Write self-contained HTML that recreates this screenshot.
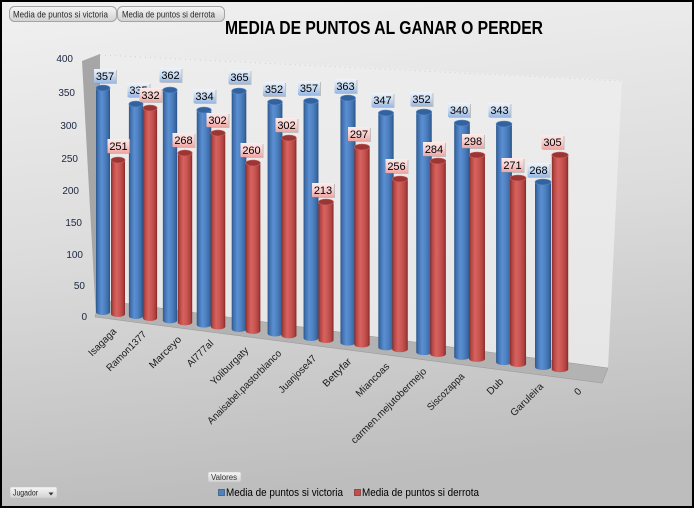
<!DOCTYPE html>
<html><head><meta charset="utf-8"><style>
html,body{margin:0;padding:0;background:#fff;}
svg{display:block;font-family:"Liberation Sans",sans-serif;}
</style></head><body>
<svg width="694" height="508" viewBox="0 0 694 508" xmlns="http://www.w3.org/2000/svg">
<defs>
<linearGradient id="bg" x1="0" y1="0" x2="0.15" y2="1">
<stop offset="0" stop-color="#f1f1f1"/><stop offset="0.5" stop-color="#dcdcdc"/><stop offset="1" stop-color="#bdbdbd"/>
</linearGradient>
<linearGradient id="wall" x1="0" y1="0" x2="0" y2="1">
<stop offset="0" stop-color="#ededed"/><stop offset="1" stop-color="#e6e6e6"/>
</linearGradient>
<linearGradient id="gb" x1="0" y1="0" x2="1" y2="0">
<stop offset="0" stop-color="#2c578c"/><stop offset="0.15" stop-color="#4273b2"/><stop offset="0.38" stop-color="#5b8fd1"/><stop offset="0.62" stop-color="#4e82c3"/><stop offset="0.86" stop-color="#3c6ca7"/><stop offset="1" stop-color="#2a5283"/>
</linearGradient>
<linearGradient id="gr" x1="0" y1="0" x2="1" y2="0">
<stop offset="0" stop-color="#8a2d2b"/><stop offset="0.15" stop-color="#b84946"/><stop offset="0.38" stop-color="#d6635f"/><stop offset="0.62" stop-color="#ca5552"/><stop offset="0.86" stop-color="#ae423f"/><stop offset="1" stop-color="#832927"/>
</linearGradient>
<linearGradient id="lb" x1="0" y1="0" x2="0" y2="1">
<stop offset="0" stop-color="#eef4fb"/><stop offset="0.5" stop-color="#c9daf1"/><stop offset="1" stop-color="#98b8e2"/>
</linearGradient>
<linearGradient id="lr" x1="0" y1="0" x2="0" y2="1">
<stop offset="0" stop-color="#fdeceb"/><stop offset="0.5" stop-color="#f8d0cf"/><stop offset="1" stop-color="#eea6a4"/>
</linearGradient>
<linearGradient id="btn" x1="0" y1="0" x2="0" y2="1">
<stop offset="0" stop-color="#f6f6f6"/><stop offset="1" stop-color="#d2d2d2"/>
</linearGradient>
</defs>

<rect x="0" y="0" width="694" height="508" fill="url(#bg)"/>

<!-- walls and floor -->
<polygon points="100,54 622,80 608,368 100,300" fill="url(#wall)"/>
<line x1="100" y1="55" x2="621" y2="81" stroke="#cfcfcf" stroke-width="1" stroke-dasharray="1,4"/>
<polygon points="82,61 100,54 100,300 96,318" fill="#a6a6a6"/>
<polygon points="100,300 608,368 602,383 95,317" fill="#b3b3b3" stroke="#9c9c9c" stroke-width="0.6"/>

<!-- y axis labels -->
<g font-size="10" fill="#1c2541" text-anchor="end">
<text x="73" y="62">400</text>
<text x="75" y="96">350</text>
<text x="77" y="129">300</text>
<text x="78" y="162">250</text>
<text x="79" y="194">200</text>
<text x="82" y="226">150</text>
<text x="83" y="258">100</text>
<text x="85" y="289">50</text>
<text x="87" y="320">0</text>
</g>

<!-- bars -->
<g id="bars">
<!-- 1 -->
<rect x="96" y="88" width="14" height="224" fill="url(#gb)"/><ellipse cx="103" cy="312" rx="7" ry="3" fill="url(#gb)"/><ellipse cx="103" cy="88" rx="7" ry="3" fill="#33639f" stroke="#5a8acb" stroke-width="0.6"/>
<rect x="111" y="160" width="14" height="154" fill="url(#gr)"/><ellipse cx="118" cy="314" rx="7" ry="3" fill="url(#gr)"/><ellipse cx="118" cy="160" rx="7" ry="3" fill="#9a3633" stroke="#d0625f" stroke-width="0.6"/>
<!-- 2 -->
<rect x="128.9" y="104" width="14.2" height="212" fill="url(#gb)"/><ellipse cx="136" cy="316" rx="7.1" ry="3" fill="url(#gb)"/><ellipse cx="136" cy="104" rx="7.1" ry="3" fill="#33639f" stroke="#5a8acb" stroke-width="0.6"/>
<rect x="142.9" y="108" width="14.2" height="210" fill="url(#gr)"/><ellipse cx="150" cy="318" rx="7.1" ry="3" fill="url(#gr)"/><ellipse cx="150" cy="108" rx="7.1" ry="3" fill="#9a3633" stroke="#d0625f" stroke-width="0.6"/>
<!-- 3 -->
<rect x="162.85" y="90" width="14.3" height="230.4" fill="url(#gb)"/><ellipse cx="170" cy="320.4" rx="7.15" ry="3" fill="url(#gb)"/><ellipse cx="170" cy="90" rx="7.15" ry="3" fill="#33639f" stroke="#5a8acb" stroke-width="0.6"/>
<rect x="177.8" y="153" width="14.4" height="169.4" fill="url(#gr)"/><ellipse cx="185" cy="322.4" rx="7.2" ry="3" fill="url(#gr)"/><ellipse cx="185" cy="153" rx="7.2" ry="3" fill="#9a3633" stroke="#d0625f" stroke-width="0.6"/>
<!-- 4 -->
<rect x="196.75" y="110" width="14.5" height="214.6" fill="url(#gb)"/><ellipse cx="204" cy="324.6" rx="7.25" ry="3" fill="url(#gb)"/><ellipse cx="204" cy="110" rx="7.25" ry="3" fill="#33639f" stroke="#5a8acb" stroke-width="0.6"/>
<rect x="210.75" y="133" width="14.5" height="193.5" fill="url(#gr)"/><ellipse cx="218" cy="326.5" rx="7.25" ry="3" fill="url(#gr)"/><ellipse cx="218" cy="133" rx="7.25" ry="3" fill="#9a3633" stroke="#d0625f" stroke-width="0.6"/>
<!-- 5 -->
<rect x="231.7" y="91" width="14.6" height="238" fill="url(#gb)"/><ellipse cx="239" cy="329" rx="7.3" ry="3" fill="url(#gb)"/><ellipse cx="239" cy="91" rx="7.3" ry="3" fill="#33639f" stroke="#5a8acb" stroke-width="0.6"/>
<rect x="245.65" y="163" width="14.7" height="167.9" fill="url(#gr)"/><ellipse cx="253" cy="330.9" rx="7.35" ry="3" fill="url(#gr)"/><ellipse cx="253" cy="163" rx="7.35" ry="3" fill="#9a3633" stroke="#d0625f" stroke-width="0.6"/>
<!-- 6 -->
<rect x="267.6" y="102" width="14.8" height="231.5" fill="url(#gb)"/><ellipse cx="275" cy="333.5" rx="7.4" ry="3" fill="url(#gb)"/><ellipse cx="275" cy="102" rx="7.4" ry="3" fill="#33639f" stroke="#5a8acb" stroke-width="0.6"/>
<rect x="281.55" y="138" width="14.9" height="197.4" fill="url(#gr)"/><ellipse cx="289" cy="335.4" rx="7.45" ry="3" fill="url(#gr)"/><ellipse cx="289" cy="138" rx="7.45" ry="3" fill="#9a3633" stroke="#d0625f" stroke-width="0.6"/>
<!-- 7 -->
<rect x="303.55" y="101" width="14.9" height="237" fill="url(#gb)"/><ellipse cx="311" cy="338" rx="7.45" ry="3" fill="url(#gb)"/><ellipse cx="311" cy="101" rx="7.45" ry="3" fill="#33639f" stroke="#5a8acb" stroke-width="0.6"/>
<rect x="318.45" y="202" width="15.1" height="138" fill="url(#gr)"/><ellipse cx="326" cy="340" rx="7.55" ry="3" fill="url(#gr)"/><ellipse cx="326" cy="202" rx="7.55" ry="3" fill="#9a3633" stroke="#d0625f" stroke-width="0.6"/>
<!-- 8 -->
<rect x="340.45" y="98" width="15.1" height="244.6" fill="url(#gb)"/><ellipse cx="348" cy="342.6" rx="7.55" ry="3" fill="url(#gb)"/><ellipse cx="348" cy="98" rx="7.55" ry="3" fill="#33639f" stroke="#5a8acb" stroke-width="0.6"/>
<rect x="354.35" y="147" width="15.3" height="197.5" fill="url(#gr)"/><ellipse cx="362" cy="344.5" rx="7.65" ry="3" fill="url(#gr)"/><ellipse cx="362" cy="147" rx="7.65" ry="3" fill="#9a3633" stroke="#d0625f" stroke-width="0.6"/>
<!-- 9 -->
<rect x="378.35" y="113" width="15.3" height="234.4" fill="url(#gb)"/><ellipse cx="386" cy="347.4" rx="7.65" ry="3" fill="url(#gb)"/><ellipse cx="386" cy="113" rx="7.65" ry="3" fill="#33639f" stroke="#5a8acb" stroke-width="0.6"/>
<rect x="392.25" y="179" width="15.5" height="170.3" fill="url(#gr)"/><ellipse cx="400" cy="349.3" rx="7.75" ry="3" fill="url(#gr)"/><ellipse cx="400" cy="179" rx="7.75" ry="3" fill="#9a3633" stroke="#d0625f" stroke-width="0.6"/>
<!-- 10 -->
<rect x="416.25" y="112" width="15.5" height="240.1" fill="url(#gb)"/><ellipse cx="424" cy="352.1" rx="7.75" ry="3" fill="url(#gb)"/><ellipse cx="424" cy="112" rx="7.75" ry="3" fill="#33639f" stroke="#5a8acb" stroke-width="0.6"/>
<rect x="430.15" y="161" width="15.7" height="193" fill="url(#gr)"/><ellipse cx="438" cy="354" rx="7.85" ry="3" fill="url(#gr)"/><ellipse cx="438" cy="161" rx="7.85" ry="3" fill="#9a3633" stroke="#d0625f" stroke-width="0.6"/>
<!-- 11 -->
<rect x="454.2" y="123" width="15.6" height="233.9" fill="url(#gb)"/><ellipse cx="462" cy="356.9" rx="7.8" ry="3" fill="url(#gb)"/><ellipse cx="462" cy="123" rx="7.8" ry="3" fill="#33639f" stroke="#5a8acb" stroke-width="0.6"/>
<rect x="469.05" y="155" width="15.9" height="203.9" fill="url(#gr)"/><ellipse cx="477" cy="358.9" rx="7.95" ry="3" fill="url(#gr)"/><ellipse cx="477" cy="155" rx="7.95" ry="3" fill="#9a3633" stroke="#d0625f" stroke-width="0.6"/>
<!-- 12 -->
<rect x="496.1" y="124" width="15.8" height="238.1" fill="url(#gb)"/><ellipse cx="504" cy="362.1" rx="7.9" ry="3" fill="url(#gb)"/><ellipse cx="504" cy="124" rx="7.9" ry="3" fill="#33639f" stroke="#5a8acb" stroke-width="0.6"/>
<rect x="509.95" y="178" width="16.1" height="186" fill="url(#gr)"/><ellipse cx="518" cy="364" rx="8.05" ry="3" fill="url(#gr)"/><ellipse cx="518" cy="178" rx="8.05" ry="3" fill="#9a3633" stroke="#d0625f" stroke-width="0.6"/>
<!-- 13 -->
<rect x="535" y="182" width="16" height="185" fill="url(#gb)"/><ellipse cx="543" cy="367" rx="8" ry="3" fill="url(#gb)"/><ellipse cx="543" cy="182" rx="8" ry="3" fill="#33639f" stroke="#5a8acb" stroke-width="0.6"/>
<rect x="551.8" y="155" width="16.4" height="214.3" fill="url(#gr)"/><ellipse cx="560" cy="369.3" rx="8.2" ry="3" fill="url(#gr)"/><ellipse cx="560" cy="155" rx="8.2" ry="3" fill="#9a3633" stroke="#d0625f" stroke-width="0.6"/>
</g>

<!-- blue data labels -->
<g font-size="11" fill="#000" text-anchor="middle">
<g><rect x="95" y="70" width="22" height="14" fill="#8a8a8a" opacity="0.45"/><rect x="94" y="69" width="22" height="14" fill="url(#lb)"/><text x="105" y="80">357</text></g>
<g><rect x="128.5" y="84" width="22" height="14" fill="#8a8a8a" opacity="0.45"/><rect x="127.5" y="83" width="22" height="14" fill="url(#lb)"/><text x="138.5" y="94">335</text></g>
<g><rect x="160.5" y="69" width="22" height="14" fill="#8a8a8a" opacity="0.45"/><rect x="159.5" y="68" width="22" height="14" fill="url(#lb)"/><text x="170.5" y="79">362</text></g>
<g><rect x="194.5" y="90" width="22" height="14" fill="#8a8a8a" opacity="0.45"/><rect x="193.5" y="89" width="22" height="14" fill="url(#lb)"/><text x="204.5" y="100">334</text></g>
<g><rect x="229.5" y="71" width="22" height="14" fill="#8a8a8a" opacity="0.45"/><rect x="228.5" y="70" width="22" height="14" fill="url(#lb)"/><text x="239.5" y="81">365</text></g>
<g><rect x="264" y="83" width="22" height="14" fill="#8a8a8a" opacity="0.45"/><rect x="263" y="82" width="22" height="14" fill="url(#lb)"/><text x="274" y="93">352</text></g>
<g><rect x="299" y="82" width="22" height="14" fill="#8a8a8a" opacity="0.45"/><rect x="298" y="81" width="22" height="14" fill="url(#lb)"/><text x="309" y="92">357</text></g>
<g><rect x="335.5" y="80" width="22" height="14" fill="#8a8a8a" opacity="0.45"/><rect x="334.5" y="79" width="22" height="14" fill="url(#lb)"/><text x="345.5" y="90">363</text></g>
<g><rect x="372.5" y="94" width="22" height="14" fill="#8a8a8a" opacity="0.45"/><rect x="371.5" y="93" width="22" height="14" fill="url(#lb)"/><text x="382.5" y="104">347</text></g>
<g><rect x="411.5" y="93" width="22" height="14" fill="#8a8a8a" opacity="0.45"/><rect x="410.5" y="92" width="22" height="14" fill="url(#lb)"/><text x="421.5" y="103">352</text></g>
<g><rect x="449" y="104" width="22" height="14" fill="#8a8a8a" opacity="0.45"/><rect x="448" y="103" width="22" height="14" fill="url(#lb)"/><text x="459" y="114">340</text></g>
<g><rect x="489.5" y="104" width="22" height="14" fill="#8a8a8a" opacity="0.45"/><rect x="488.5" y="103" width="22" height="14" fill="url(#lb)"/><text x="499.5" y="114">343</text></g>
<g><rect x="528.5" y="164" width="22" height="14" fill="#8a8a8a" opacity="0.45"/><rect x="527.5" y="163" width="22" height="14" fill="url(#lb)"/><text x="538.5" y="174">268</text></g>
</g>

<!-- red data labels -->
<g font-size="11" fill="#000" text-anchor="middle">
<g><rect x="108.5" y="140" width="22" height="14" fill="#8a8a8a" opacity="0.45"/><rect x="107.5" y="139" width="22" height="14" fill="url(#lr)"/><text x="118.5" y="150">251</text></g>
<g><rect x="140.5" y="89" width="22" height="14" fill="#8a8a8a" opacity="0.45"/><rect x="139.5" y="88" width="22" height="14" fill="url(#lr)"/><text x="150.5" y="99">332</text></g>
<g><rect x="173.5" y="134" width="22" height="14" fill="#8a8a8a" opacity="0.45"/><rect x="172.5" y="133" width="22" height="14" fill="url(#lr)"/><text x="183.5" y="144">268</text></g>
<g><rect x="207.5" y="114" width="22" height="14" fill="#8a8a8a" opacity="0.45"/><rect x="206.5" y="113" width="22" height="14" fill="url(#lr)"/><text x="217.5" y="124">302</text></g>
<g><rect x="241.5" y="144" width="22" height="14" fill="#8a8a8a" opacity="0.45"/><rect x="240.5" y="143" width="22" height="14" fill="url(#lr)"/><text x="251.5" y="154">260</text></g>
<g><rect x="276.5" y="119" width="22" height="14" fill="#8a8a8a" opacity="0.45"/><rect x="275.5" y="118" width="22" height="14" fill="url(#lr)"/><text x="286.5" y="129">302</text></g>
<g><rect x="313" y="184" width="22" height="14" fill="#8a8a8a" opacity="0.45"/><rect x="312" y="183" width="22" height="14" fill="url(#lr)"/><text x="323" y="194">213</text></g>
<g><rect x="349" y="128" width="22" height="14" fill="#8a8a8a" opacity="0.45"/><rect x="348" y="127" width="22" height="14" fill="url(#lr)"/><text x="359" y="138">297</text></g>
<g><rect x="386.5" y="160" width="22" height="14" fill="#8a8a8a" opacity="0.45"/><rect x="385.5" y="159" width="22" height="14" fill="url(#lr)"/><text x="396.5" y="170">256</text></g>
<g><rect x="424" y="143" width="22" height="14" fill="#8a8a8a" opacity="0.45"/><rect x="423" y="142" width="22" height="14" fill="url(#lr)"/><text x="434" y="153">284</text></g>
<g><rect x="463" y="135" width="22" height="14" fill="#8a8a8a" opacity="0.45"/><rect x="462" y="134" width="22" height="14" fill="url(#lr)"/><text x="473" y="145">298</text></g>
<g><rect x="502.5" y="159" width="22" height="14" fill="#8a8a8a" opacity="0.45"/><rect x="501.5" y="158" width="22" height="14" fill="url(#lr)"/><text x="512.5" y="169">271</text></g>
<g><rect x="542.5" y="136" width="22" height="14" fill="#8a8a8a" opacity="0.45"/><rect x="541.5" y="135" width="22" height="14" fill="url(#lr)"/><text x="552.5" y="146">305</text></g>
</g>

<!-- x axis labels -->
<g font-size="10" fill="#1a1a1a" text-anchor="end">
<text x="117" y="332" transform="rotate(-45 117 332)" textLength="35" lengthAdjust="spacingAndGlyphs">Isagaga</text>
<text x="147" y="335" transform="rotate(-45 147 335)" textLength="52" lengthAdjust="spacingAndGlyphs">Ramon1377</text>
<text x="182" y="340" transform="rotate(-45 182 340)" textLength="41" lengthAdjust="spacingAndGlyphs">Marceyo</text>
<text x="214" y="344" transform="rotate(-45 214 344)" textLength="33" lengthAdjust="spacingAndGlyphs">Al777al</text>
<text x="249" y="351" transform="rotate(-45 249 351)" textLength="49" lengthAdjust="spacingAndGlyphs">Yoliburgaty</text>
<text x="282" y="354" transform="rotate(-45 282 354)" textLength="100" lengthAdjust="spacingAndGlyphs">Anaisabel.pastorblanco</text>
<text x="317" y="359" transform="rotate(-45 317 359)" textLength="49" lengthAdjust="spacingAndGlyphs">Juanjose47</text>
<text x="352" y="362" transform="rotate(-45 352 362)" textLength="36" lengthAdjust="spacingAndGlyphs">Bettyfar</text>
<text x="390" y="367" transform="rotate(-45 390 367)" textLength="43" lengthAdjust="spacingAndGlyphs">Miancoas</text>
<text x="427" y="372" transform="rotate(-45 427 372)" textLength="102" lengthAdjust="spacingAndGlyphs">carmen.mejutobermejo</text>
<text x="465" y="377" transform="rotate(-45 465 377)" textLength="48" lengthAdjust="spacingAndGlyphs">Siscozappa</text>
<text x="504" y="382" transform="rotate(-45 504 382)" textLength="19" lengthAdjust="spacingAndGlyphs">Dub</text>
<text x="544" y="387" transform="rotate(-45 544 387)" textLength="42" lengthAdjust="spacingAndGlyphs">Garuleira</text>
<text x="582" y="392" transform="rotate(-45 582 392)">0</text>
</g>

<!-- title -->
<text x="384" y="34" font-size="18" font-weight="bold" fill="#000" text-anchor="middle" textLength="318" lengthAdjust="spacingAndGlyphs">MEDIA DE PUNTOS AL GANAR O PERDER</text>

<!-- top buttons -->
<rect x="9.5" y="6.5" width="107" height="15" rx="5" fill="url(#btn)" stroke="#a4a4a4"/>
<text x="13" y="17.5" font-size="9" fill="#2a2a2a" textLength="95" lengthAdjust="spacingAndGlyphs">Media de puntos si victoria</text>
<rect x="117.5" y="6.5" width="107" height="15" rx="5" fill="url(#btn)" stroke="#a4a4a4"/>
<text x="122" y="17.5" font-size="9" fill="#2a2a2a" textLength="93" lengthAdjust="spacingAndGlyphs">Media de puntos si derrota</text>

<!-- bottom controls -->
<rect x="208" y="472" width="33" height="10" rx="2" fill="url(#btn)" stroke="#c4c4c4" stroke-width="0.6"/>
<text x="211" y="480" font-size="8" fill="#333" textLength="26" lengthAdjust="spacingAndGlyphs">Valores</text>
<rect x="10" y="487" width="47" height="11" rx="2" fill="url(#btn)" stroke="#c4c4c4" stroke-width="0.6"/>
<text x="13" y="495.5" font-size="8" fill="#222" textLength="25" lengthAdjust="spacingAndGlyphs">Jugador</text>
<polygon points="48.5,492.5 53.5,492.5 51,495.5" fill="#333"/>

<!-- legend -->
<rect x="218.5" y="489.5" width="6" height="6" fill="#4f81bd" stroke="#385d8a" stroke-width="0.8"/>
<text x="226" y="496" font-size="11" fill="#000" textLength="117" lengthAdjust="spacingAndGlyphs">Media de puntos si victoria</text>
<rect x="354.5" y="489.5" width="6" height="6" fill="#c0504d" stroke="#8c3836" stroke-width="0.8"/>
<text x="362" y="496" font-size="11" fill="#000" textLength="117" lengthAdjust="spacingAndGlyphs">Media de puntos si derrota</text>

<!-- outer border -->
<rect x="1" y="1" width="692" height="506" fill="none" stroke="#000" stroke-width="2"/>
</svg>
</body></html>
